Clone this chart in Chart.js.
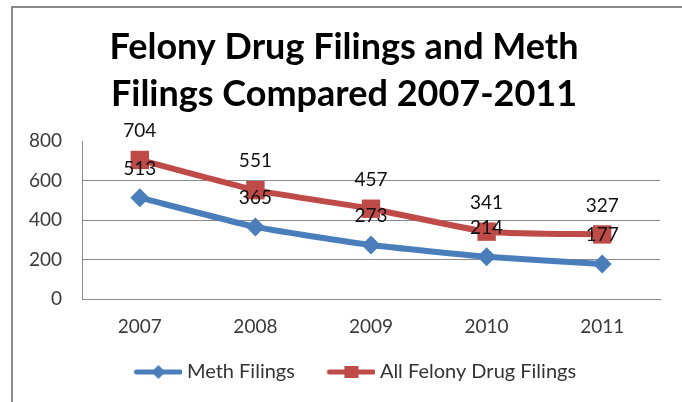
<!DOCTYPE html>
<html>
<head>
<meta charset="utf-8">
<script src="https://cdn.jsdelivr.net/npm/chart.js@4.4.1/dist/chart.umd.min.js"></script>
<style>
  html, body { margin: 0; padding: 0; background: #ffffff; }
  #wrap { position: relative; width: 682px; height: 402px; }
  #frame { position: absolute; left: 11px; top: 6px; right: 0; bottom: 0;
           border-top: 2px solid #8a8a8a; border-left: 2px solid #8a8a8a; pointer-events: none; }
</style>
</head>
<body>
<div id="wrap">
  <canvas id="c" width="682" height="402"></canvas>
  <div id="frame"></div>
</div>
<script>
const titleLines = ["Felony Drug Filings and Meth", "Filings Compared 2007-2011"];
const categories = ["2007", "2008", "2009", "2010", "2011"];
const methFilings = [513, 365, 273, 214, 177];
const allFelonyDrugFilings = [704, 551, 457, 341, 327];
const seriesNames = ["Meth Filings", "All Felony Drug Filings"];
const yTicks = [0, 200, 400, 600, 800];

const BLUE = "#4A7EBB";
const RED = "#BE4B48";
const FONT = "Lato, 'Liberation Sans', sans-serif";

function legendIcon(color, shape) {
  const W = 76, H = 20;
  const cv = document.createElement("canvas");
  cv.width = W; cv.height = H;
  const c = cv.getContext("2d");
  c.strokeStyle = color; c.lineWidth = 5; c.lineCap = "round";
  c.beginPath(); c.moveTo(W - 46, H / 2); c.lineTo(W - 2, H / 2); c.stroke();
  c.fillStyle = color;
  const cx = W - 24, cy = H / 2;
  if (shape === "diamond") {
    c.beginPath(); c.moveTo(cx, cy - 7); c.lineTo(cx + 7, cy); c.lineTo(cx, cy + 7); c.lineTo(cx - 7, cy); c.closePath(); c.fill();
  } else {
    c.fillRect(cx - 7, cy - 6, 14, 12);
  }
  return cv;
}
const icons = [legendIcon(BLUE, "diamond"), legendIcon(RED, "square")];

const valueLabels = {
  id: "valueLabels",
  afterDatasetsDraw(chart) {
    const ctx = chart.ctx;
    ctx.save();
    ctx.font = "19px " + FONT;
    ctx.fillStyle = "#111111";
    ctx.textAlign = "center";
    ctx.textBaseline = "middle";
    chart.data.datasets.forEach((ds, i) => {
      const meta = chart.getDatasetMeta(i);
      meta.data.forEach((pt, j) => {
        ctx.fillText(String(ds.data[j]), pt.x, pt.y - 29);
      });
    });
    ctx.restore();
  }
};

new Chart(document.getElementById("c"), {
  type: "line",
  data: {
    labels: categories,
    datasets: [
      { label: seriesNames[0], data: methFilings, borderColor: BLUE, backgroundColor: BLUE,
        borderWidth: 6, pointStyle: "rectRot", pointRadius: 9.5, pointHoverRadius: 9.5,
        pointBackgroundColor: BLUE, pointBorderColor: BLUE, pointBorderWidth: 0, tension: 0.15 },
      { label: seriesNames[1], data: allFelonyDrugFilings, borderColor: RED, backgroundColor: RED,
        borderWidth: 6, pointStyle: "rect", pointRadius: 13, pointHoverRadius: 13,
        pointBackgroundColor: RED, pointBorderColor: RED, pointBorderWidth: 0, tension: 0.15 }
    ]
  },
  options: {
    responsive: false,
    animation: false,
    events: [],
    layout: { padding: { left: 28, right: 22, top: 0, bottom: 10 } },
    plugins: {
      title: {
        display: true,
        text: titleLines,
        color: "#000000",
        font: { family: FONT, size: 36, weight: "bold", lineHeight: 47 / 36 },
        padding: { top: 24, bottom: 23 }
      },
      legend: {
        position: "bottom",
        labels: {
          usePointStyle: true,
          pointStyleWidth: 65,
          padding: 10,
          color: "#333333",
          font: { family: FONT, size: 20 },
          generateLabels(chart) {
            return chart.data.datasets.map((ds, i) => ({
              text: ds.label, pointStyle: icons[i], fillStyle: ds.borderColor,
              strokeStyle: ds.borderColor, lineWidth: 0, hidden: false, datasetIndex: i,
              fontColor: "#333333"
            }));
          }
        }
      },
      tooltip: { enabled: false }
    },
    scales: {
      x: {
        offset: true,
        grid: { display: false, drawTicks: false, offset: true },
        border: { display: true, color: "#8a8a8a", width: 1 },
        ticks: { color: "#3a3a3a", font: { family: FONT, size: 19 }, padding: 16 },
        afterFit(scale) { scale.height = 53; }
      },
      y: {
        min: 0, max: 800,
        afterBuildTicks(scale) { scale.ticks = yTicks.map(v => ({ value: v })); },
        grid: {
          drawTicks: false,
          color: (c) => (c.tick && c.tick.value === 800 ? "rgba(0,0,0,0)" : "#8a8a8a"),
          lineWidth: 1
        },
        border: { display: true, color: "#8a8a8a", width: 1 },
        ticks: { color: "#3a3a3a", font: { family: FONT, size: 19 }, padding: 20 },
        afterFit(scale) { scale.width = 54; }
      }
    }
  },
  plugins: [valueLabels]
});
</script>
</body>
</html>
